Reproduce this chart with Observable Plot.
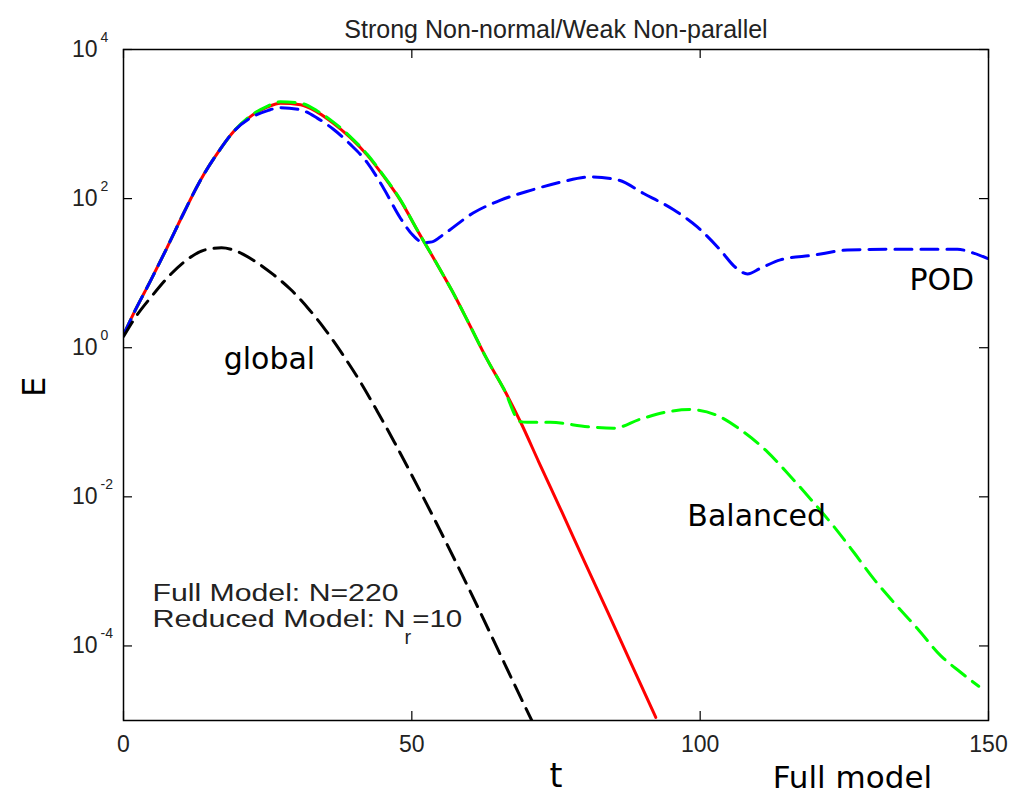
<!DOCTYPE html>
<html><head><meta charset="utf-8">
<script src="https://cdn.jsdelivr.net/npm/d3@7"></script>
<script src="https://cdn.jsdelivr.net/npm/@observablehq/plot@0.6"></script>
<style>html,body{margin:0;padding:0;background:#fff;} #chart{position:absolute;left:0;top:0;}</style>
</head><body><div id="chart"></div>
<script>
const title = "Strong Non-normal/Weak Non-parallel";
const xTicks = [0, 50, 100, 150];
const yTicks = [1e-4, 1e-2, 1, 1e2, 1e4];
const yTickBase = ["10", "10", "10", "10", "10"];
const yTickExp = ["-4", "-2", "0", "2", "4"];

// Full model (red, solid)
const tFull = [0, 1.7, 4.7, 7.6, 10.4, 13.3, 16.3, 19.1, 22.0, 25.0, 27.2, 30.7, 33.6, 36.4, 39.3, 42.3, 45.1, 48.0, 51, 54, 57, 60, 63, 66, 69, 72, 76, 80, 84, 88, 92.3];
const eFull = [1.48, 2.82, 7.94, 22.4, 63.1, 174, 407, 794, 1259, 1698, 1905, 1820, 1445, 1023, 661, 380, 200, 95.5, 37.2, 14.8, 5.75, 2.04, 0.708, 0.275, 0.0955, 0.0295, 0.00631, 0.00132, 2.82e-4, 5.89e-5, 1.10e-5];

// Balanced (green, dashed)
const tBal = [0, 1.7, 4.7, 7.6, 10.4, 13.3, 16.3, 19.1, 22.0, 25.0, 27.2, 30.7, 33.6, 36.4, 39.3, 42.3, 45.1, 48.0, 51, 54, 57, 60, 63, 66, 68.8, 70, 74.0, 80.5, 85.0, 89.6, 94.3, 98.3, 103.0, 107.0, 111.7, 115.7, 119.6, 123.1, 126.6, 130.1, 133.5, 137.7, 141.7, 145.1, 148.3];
const eBal = [1.48, 2.82, 7.94, 22.4, 63.1, 174, 407, 794, 1285, 1740, 1995, 1905, 1500, 1060, 680, 390, 204, 97, 37.2, 14.8, 5.75, 2.04, 0.708, 0.275, 0.102, 0.100, 0.100, 0.0871, 0.0832, 0.110, 0.138, 0.148, 0.123, 0.0794, 0.0398, 0.0186, 0.00851, 0.00407, 0.00182, 7.94e-4, 3.89e-4, 1.70e-4, 7.41e-5, 4.47e-5, 2.88e-5];

// POD (blue, dashed)
const tPod = [0, 1.7, 4.7, 7.6, 10.4, 13.3, 16.3, 19.1, 22.0, 25.0, 27.2, 30.7, 33.6, 36.4, 39.3, 42.3, 45.1, 48.0, 50.3, 52.0, 53.5, 55.5, 60.7, 65.4, 70.6, 75.8, 81.0, 85.7, 90.2, 95.4, 99.5, 103.5, 106.1, 108.2, 110.5, 113.9, 119.6, 125.5, 132.5, 139.9, 144.6, 147.4, 149.8];
const ePod = [1.48, 2.82, 7.94, 22.4, 63.1, 174, 407, 794, 1202, 1514, 1660, 1549, 1202, 851, 537, 302, 138, 55.0, 31.6, 25.7, 26.3, 33.1, 64.6, 95.5, 129, 166, 195, 178, 117, 70.8, 41.7, 20.4, 12.0, 9.77, 11.7, 15.1, 17.4, 20.4, 20.9, 20.9, 20.9, 18.6, 15.8];

// global (black, dashed)
const tGlob = [0, 2, 5, 8, 11, 14, 17, 20, 23, 26, 29, 32, 35, 38, 41, 44, 47, 50, 53, 56, 59, 62, 65, 68, 70.8];
const eGlob = [1.41, 2.51, 5.01, 9.33, 15.1, 20.4, 21.9, 19.1, 14.1, 9.55, 6.03, 3.39, 1.74, 0.813, 0.355, 0.141, 0.0537, 0.0195, 0.00692, 0.00240, 8.13e-4, 2.69e-4, 8.71e-5, 2.82e-5, 1.0e-5];

const labels = ["global", "POD", "Balanced"];
const labelT = [25.3, 141.9, 109.8];
const labelE = [0.69, 8.1, 0.0055];

const toRows = (ts, es) => ts.map((t, i) => ({t, E: es[i]}));
const full = toRows(tFull, eFull);
const bal = toRows(tBal, eBal);
const pod = toRows(tPod, ePod);
const glob = toRows(tGlob, eGlob);
const annot = labels.map((s, i) => ({s, t: labelT[i], E: labelE[i]}));

const W = 1009, H = 797, mL = 123, mR = 21, mT = 49, mB = 77;
const innerW = W - mL - mR, innerH = H - mT - mB, tk = 9;
const matFont = "'Liberation Sans', Arial, sans-serif";
const annFont = "'DejaVu Sans', Verdana, sans-serif";
const dash = "17,9";

const svg = Plot.plot({
  width: W, height: H,
  marginLeft: mL, marginRight: mR, marginTop: mT, marginBottom: mB,
  style: {fontFamily: matFont, fontSize: "23px", background: "#fff", color: "#222", overflow: "visible"},
  x: {domain: [0, 150]},
  y: {type: "log", domain: [1e-5, 1e4]},
  marks: [
    Plot.line(full, {x: "t", y: "E", stroke: "#ff0000", strokeWidth: 3, curve: "monotone-x", clip: true}),
    Plot.line(bal, {x: "t", y: "E", stroke: "#00ff00", strokeWidth: 3, strokeDasharray: dash, curve: "monotone-x", clip: true}),
    Plot.line(pod, {x: "t", y: "E", stroke: "#0000ff", strokeWidth: 3, strokeDasharray: dash, curve: "monotone-x", clip: true}),
    Plot.line(glob, {x: "t", y: "E", stroke: "#000000", strokeWidth: 3, strokeDasharray: dash, curve: "monotone-x", clip: true}),
    Plot.frame({stroke: "#000", strokeWidth: 1.5}),
    Plot.ruleX(xTicks, {insetTop: innerH - tk, stroke: "#000", strokeWidth: 1.2}),
    Plot.ruleX(xTicks, {insetBottom: innerH - tk, stroke: "#000", strokeWidth: 1.2}),
    Plot.ruleY(yTicks, {insetRight: innerW - tk, stroke: "#000", strokeWidth: 1.2}),
    Plot.ruleY(yTicks, {insetLeft: innerW - tk, stroke: "#000", strokeWidth: 1.2}),
    Plot.axisX({ticks: xTicks, tickSize: 0, tickPadding: 15, fontSize: 23, label: null}),
    Plot.axisY({ticks: yTicks, tickSize: 0, tickPadding: 26, tickFormat: () => "10", fontSize: 23, label: null}),
    Plot.text(yTicks, {y: d => d, text: (d, i) => yTickExp[i], frameAnchor: "left", dx: -23, dy: -12, textAnchor: "start", fontSize: 14}),
    Plot.text([title], {text: d => d, frameAnchor: "top", dy: -29, fontSize: 25}),
    Plot.text(["Full Model: N=220"], {text: d => d, frameAnchor: "bottom-left", dx: 29, dy: -120, textAnchor: "start", lineAnchor: "bottom", fontSize: 23}),
    Plot.text(["Reduced Model: N_r=10"], {text: d => d, frameAnchor: "bottom-left", dx: 29, dy: -94, textAnchor: "start", lineAnchor: "bottom", fontSize: 23}),
    Plot.text(annot, {x: "t", y: "E", text: "s", fontFamily: annFont, fontSize: 30, fill: "#000"}),
    Plot.text(["Full model"], {text: d => d, x: () => 126.4, frameAnchor: "bottom", dy: 67, lineAnchor: "bottom", fontFamily: annFont, fontSize: 31, fill: "#000"}),
    Plot.text(["t"], {text: d => d, frameAnchor: "bottom", dy: 66, lineAnchor: "bottom", fontFamily: annFont, fontSize: 33, fill: "#000"}),
    Plot.text(["E"], {text: d => d, frameAnchor: "left", dx: -89, dy: 12, rotate: -90, fontFamily: annFont, fontSize: 32, fill: "#000"})
  ]
});

const ns = "http://www.w3.org/2000/svg";
svg.querySelectorAll("text").forEach(el => {
  if (el.textContent === "Full Model: N=220") {
    el.setAttribute("textLength", "246");
    el.setAttribute("lengthAdjust", "spacingAndGlyphs");
  }
  if (el.textContent === "Reduced Model: N_r=10") {
    el.textContent = "";
    const a = document.createElementNS(ns, "tspan"); a.textContent = "Reduced Model: N";
    a.setAttribute("textLength", "253"); a.setAttribute("lengthAdjust", "spacingAndGlyphs");
    const b = document.createElementNS(ns, "tspan"); b.textContent = "r"; b.setAttribute("dy", "17"); b.setAttribute("dx", "-1"); b.setAttribute("font-size", "20");
    const c = document.createElementNS(ns, "tspan"); c.textContent = "=10"; c.setAttribute("dy", "-17"); c.setAttribute("dx", "1");
    c.setAttribute("textLength", "50"); c.setAttribute("lengthAdjust", "spacingAndGlyphs");
    el.append(a, b, c);
  }
});
document.getElementById("chart").append(svg);
</script>
</body></html>
